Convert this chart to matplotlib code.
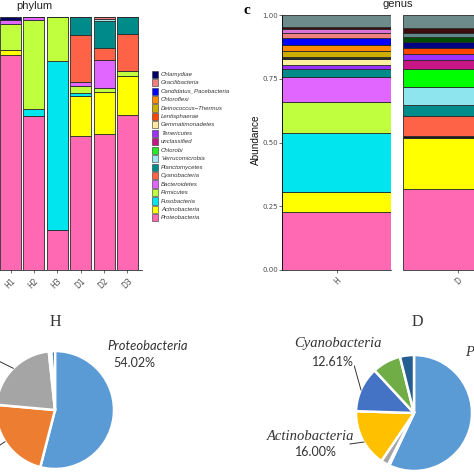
import matplotlib.pyplot as plt
from matplotlib.patches import Rectangle
import numpy as np

# ---- data -------------------------------------------------------------
samples = ["H1", "H2", "H3", "D1", "D2", "D3"]

# phylum, stacked bottom -> top (legend shows the reverse order)
phyla = ["Proteobacteria", "Actinobacteria", "Fusobacteria", "Firmicutes",
         "Bacteroidetes", "Cyanobacteria", "Planctomycetes", "Verrucomicrobia",
         "Chlorobi", "unclassified", "Tenericutes", "Gemmatimonadetes",
         "Lentisphaerae", "Deinococcus\u2212Thermus", "Chloroflexi",
         "Candidatus_Pacebacteria", "Gracilibacteria", "Chlamydiae"]
phylum_colors = ["#FF69B4", "#FFFF00", "#00E5EE", "#C0FF3E", "#E066FF",
                 "#FF6347", "#008B8B", "#A4E4F0", "#22EE22", "#C71585",
                 "#9B30FF", "#FFE9A0", "#FF4500", "#CDAD00", "#FF8C00",
                 "#0000FF", "#F08080", "#000066"]
phylum_vals = {
    "Proteobacteria": [0.849, 0.608, 0.160, 0.530, 0.537, 0.612],
    "Actinobacteria": [0.022, 0.0, 0.0, 0.158, 0.167, 0.155],
    "Fusobacteria":   [0.0, 0.030, 0.668, 0.013, 0.0, 0.0],
    "Firmicutes":     [0.100, 0.349, 0.172, 0.026, 0.017, 0.020],
    "Bacteroidetes":  [0.018, 0.013, 0.0, 0.018, 0.108, 0.0],
    "Cyanobacteria":  [0.0, 0.0, 0.0, 0.183, 0.050, 0.147],
    "Planctomycetes": [0.0, 0.0, 0.0, 0.072, 0.105, 0.066],
    "Verrucomicrobia": [0.0, 0.0, 0.0, 0.0, 0.007, 0.0],
    "Gracilibacteria": [0.0, 0.0, 0.0, 0.0, 0.009, 0.0],
    "Chlamydiae":     [0.011, 0.0, 0.0, 0.0, 0.0, 0.0],
}

# genus, stacked bottom -> top, one value per group (H, D)
genus_groups = ["H", "D"]
genus_colors = ["#FF69B4", "#FFFF00", "#1A1A1A", "#00E5EE", "#C0FF3E",
                "#E066FF", "#FF6347", "#008B8B", "#8EE5EE", "#00FF00",
                "#C71585", "#9B30FF", "#FFF0A0", "#2F2F1F", "#CDAD00",
                "#FF4500", "#FF8C00", "#000080", "#0000FF", "#004D00",
                "#F08080", "#5F8A8B", "#DA70D6", "#3D0C0C", "#6E8B8B"]
genus_H = [0.229, 0.076, 0.0, 0.234, 0.120, 0.099, 0.0, 0.030, 0.0, 0.0,
           0.0, 0.017, 0.021, 0.008, 0.026, 0.0, 0.024, 0.0, 0.026, 0.0,
           0.018, 0.0, 0.017, 0.009, 0.046]
genus_D = [0.318, 0.199, 0.009, 0.0, 0.0, 0.0, 0.076, 0.046, 0.069, 0.071,
           0.036, 0.022, 0.0, 0.0, 0.0, 0.0235, 0.0, 0.026, 0.0, 0.0196,
           0.0, 0.016, 0.0, 0.017, 0.052]

# pies (percent)
pie_names = ["Proteobacteria", "Fusobacteria", "Firmicutes", "Actinobacteria",
             "Cyanobacteria", "Planctomycetes", "Bacteroidetes"]
pie_colors = ["#5B9BD5", "#ED7D31", "#A5A5A5", "#FFC000", "#4472C4",
              "#70AD47", "#255E91"]
pie_H = [54.02, 22.40, 21.90, 0.70, 0.0, 0.0, 0.98]
pie_D = [57.00, 0.40, 2.10, 16.00, 12.61, 8.00, 3.89]

# ---- layout helpers (pixel boxes of the 474x474 image) ----------------
W = H = 474
fig = plt.figure(figsize=(4.74, 4.74), dpi=100)


def box(x0, y0, x1, y1):
    return [x0 / W, 1 - y1 / H, (x1 - x0) / W, (y1 - y0) / H]


def ftext(x, y, s, **kw):
    fig.text(x / W, 1 - y / H, s, **kw)


edge = "#2a2a2a"
grey_txt = "#4D4D4D"

# ---- phylum stacked bars ---------------------------------------------
ax = fig.add_axes(box(-3.5, 17, 141.5, 270))
xpos = np.arange(1, len(samples) + 1)
bottom = np.zeros(len(samples))
for name, col in zip(phyla, phylum_colors):
    if name not in phylum_vals:
        continue
    v = np.array(phylum_vals[name])
    ax.bar(xpos, v, 0.9, bottom=bottom, color=col, edgecolor=edge, linewidth=0.6)
    bottom += v
ax.set_xlim(0.4, 6.6)
ax.set_ylim(0, 1)
ax.set_yticks([])
ax.set_xticks(xpos, samples, rotation=45, ha="right", rotation_mode="anchor")
ax.tick_params(axis="x", length=2.5, width=0.5, color="#333333", pad=2,
               labelsize=5.5, labelcolor=grey_txt)
for s in ["top", "right", "left"]:
    ax.spines[s].set_visible(False)
ax.spines["bottom"].set_linewidth(0.5)
ftext(34, 6, "phylum", ha="center", va="center", fontsize=8,
      family="Liberation Sans", color="#222222")

# legend drawn by hand so its rows match the figure
lg = fig.add_axes(box(148, 66, 245, 226))
lg.set_xlim(148, 245)
lg.set_ylim(226, 66)
lg.axis("off")
for i, (name, col) in enumerate(zip(phyla[::-1], phylum_colors[::-1])):
    y0 = 70 + i * 8.45
    lg.add_patch(Rectangle((152, y0 + 0.6), 6, 7.2, facecolor=col,
                           edgecolor="#333333", linewidth=0.4))
    lg.text(161, y0 + 4.3, name, fontsize=4.3, style="italic", va="center",
            family="Liberation Sans", color="#333333")

# ---- genus stacked bars (two facets) ---------------------------------
axes_g = [fig.add_axes(box(282, 15, 391, 270)),
          fig.add_axes(box(403, 15, 512, 270))]
for axg, grp, vals in zip(axes_g, genus_groups, [genus_H, genus_D]):
    b = 0.0
    for v, col in zip(vals, genus_colors):
        axg.bar([1], [v], 1.0, bottom=b, color=col, edgecolor=edge, linewidth=0.6)
        b += v
    axg.set_xlim(0.5, 1.5)
    axg.set_ylim(0, 1)
    axg.set_xticks([1], [grp], rotation=45, ha="right", rotation_mode="anchor")
    axg.tick_params(axis="x", length=2.5, width=0.5, color="#333333", pad=2,
                    labelsize=5.5, labelcolor=grey_txt)
    for s in ["top", "right"]:
        axg.spines[s].set_visible(False)
    axg.spines["bottom"].set_linewidth(0.5)
    axg.spines["left"].set_linewidth(0.5)

axes_g[0].set_yticks([0, 0.25, 0.5, 0.75, 1.0],
                     ["0.00", "0.25", "0.50", "0.75", "1.00"])
axes_g[0].tick_params(axis="y", length=2, width=0.5, color="#333333", pad=1,
                      labelsize=5, labelcolor=grey_txt)
axes_g[1].set_yticks([])
axes_g[1].spines["left"].set_visible(False)
ftext(256, 140, "Abundance", rotation=90, ha="center", va="center",
      fontsize=7.2, family="Liberation Sans", color="#111111")
ftext(398, 4, "genus", ha="center", va="center", fontsize=8,
      family="Liberation Sans", color="#222222")
ftext(247, 10, "c", ha="center", va="center", fontsize=11, weight="bold",
      family="Liberation Serif")

# ---- pies ---------------------------------------------------------------
def draw_pie(cx, cy, r, vals):
    a = fig.add_axes(box(cx - r, cy - r, cx + r, cy + r))
    keep = [i for i, v in enumerate(vals) if v > 0]
    a.pie([vals[i] for i in keep], colors=[pie_colors[i] for i in keep],
          startangle=90, counterclock=False,
          wedgeprops=dict(edgecolor="white", linewidth=1.8))
    a.set_xlim(-1, 1)
    a.set_ylim(-1, 1)
    a.axis("off")
    return a


draw_pie(55, 410, 59, pie_H)
draw_pie(414, 413, 58, pie_D)

ftext(55, 322, "H", ha="center", va="center", fontsize=11.5,
      family="Liberation Serif", color="#333333")
ftext(417, 322, "D", ha="center", va="center", fontsize=11.5,
      family="Liberation Serif", color="#333333")

# H pie labels
ftext(107, 346, pie_names[0], ha="left", va="center", fontsize=9.4,
      style="italic", family="Lato", color="#333333")
ftext(113, 363, f"{pie_H[0]:.2f}%", ha="left", va="center", fontsize=9,
      family="Lato", color="#333333")
fig.add_artist(plt.Line2D([0, 13.3 / W], [1 - 361.7 / H, 1 - 368.3 / H],
                          color="#333333", lw=0.7))
fig.add_artist(plt.Line2D([0, 5 / W], [1 - 445 / H, 1 - 441.7 / H],
                          color="#333333", lw=0.7))

# D pie labels
ftext(338, 344, pie_names[4], ha="center", va="center", fontsize=10.5,
      style="italic", family="Liberation Serif", color="#333333")
ftext(333, 362, f"{pie_D[4]:.2f}%", ha="center", va="center", fontsize=9,
      family="Lato", color="#333333")
ftext(311, 436, pie_names[3], ha="center", va="center", fontsize=10.5,
      style="italic", family="Liberation Serif", color="#333333")
ftext(316, 452, f"{pie_D[3]:.2f}%", ha="center", va="center", fontsize=9,
      family="Lato", color="#333333")
ftext(465, 352, pie_names[0], ha="left", va="center", fontsize=10.5,
      style="italic", family="Liberation Serif", color="#333333")
fig.add_artist(plt.Line2D([354.3 / W, 361 / W], [1 - 366 / H, 1 - 390 / H],
                          color="#333333", lw=0.7))
fig.add_artist(plt.Line2D([350 / W, 364 / W], [1 - 444 / H, 1 - 442 / H],
                          color="#333333", lw=0.7))

fig.savefig("out.png", dpi=100, facecolor="white")
